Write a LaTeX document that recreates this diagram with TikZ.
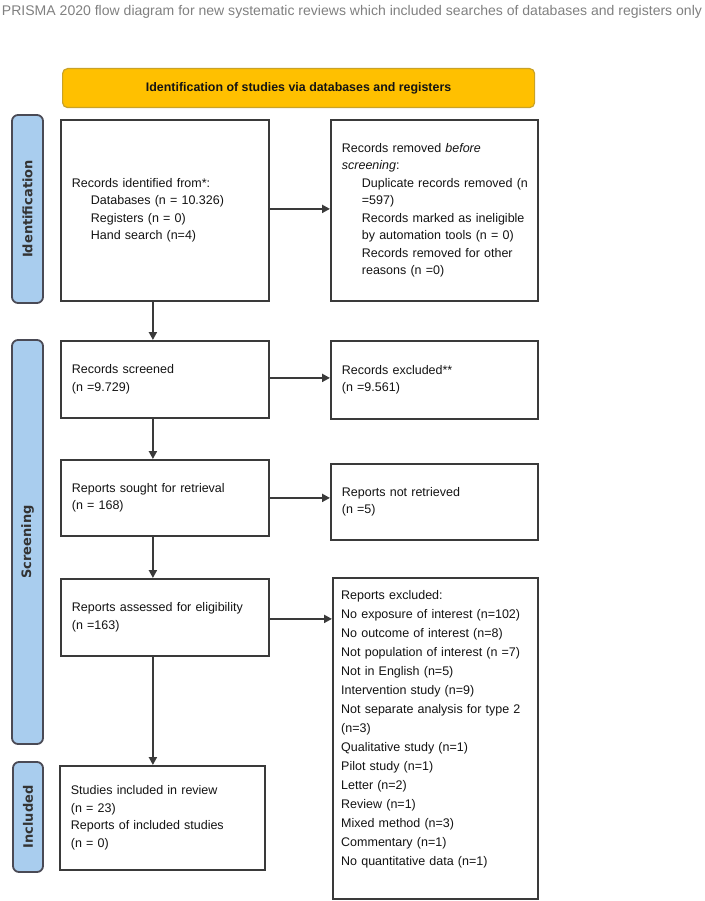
\documentclass[tikz,border=0pt]{standalone}
\usepackage{graphicx}
\usepackage{fontspec}
\setmainfont{Liberation Sans}
\newfontfamily\labfont{DejaVu Sans}
\usetikzlibrary{arrows.meta}
\definecolor{hdrfill}{HTML}{FFC000}
\definecolor{hdrdraw}{HTML}{C9A227}
\definecolor{labfill}{HTML}{A9CDEE}
\definecolor{labdraw}{HTML}{4A4A55}
\definecolor{boxdraw}{HTML}{3A3A3A}
\definecolor{titlegray}{HTML}{808080}
\definecolor{txt}{HTML}{141414}
\begin{document}
\begin{tikzpicture}[x=1pt,y=-1pt,
  box/.style={draw=boxdraw, line width=1.8pt, fill=white, anchor=north west,
    inner xsep=11pt, inner ysep=0pt, align=left, text=txt,
    font=\fontsize{12.5}{17.5}\selectfont},
  sidelab/.style={draw=labdraw, line width=1.8pt, fill=labfill, rounded corners=6pt,
    rotate=90, inner sep=0pt, text=black!80,
    font=\labfont\bfseries\fontsize{13}{15}\selectfont},
  arr/.style={draw=boxdraw, line width=2pt, -{Triangle[length=8pt,width=8pt]}}
]
\path[use as bounding box] (0,0) rectangle (704,901);

% title
\node[text=titlegray, inner sep=0pt] (title) at (352,12)
  {\resizebox{700pt}{\height}{\fontsize{14}{16}\selectfont PRISMA 2020 flow diagram for new systematic reviews which included searches of databases and registers only}};

% header
\node[draw=hdrdraw, line width=1.2pt, fill=hdrfill, rounded corners=5pt, anchor=north west,
  minimum width=472pt, minimum height=39pt, inner sep=0pt, text=txt,
  font=\bfseries\fontsize{12.4}{14}\selectfont] (hdr) at (62,68)
  {Identification of studies via databases and registers};

% side labels
\node[sidelab, minimum width=188pt, minimum height=31pt] (labid) at (27.5,209) {Identification};
\node[sidelab, minimum width=404pt, minimum height=31pt] (labsc) at (27.5,542) {Screening};
\node[sidelab, minimum width=110pt, minimum height=30pt] (labin) at (28,817) {Included};

% boxes
\node[box, minimum width=208pt, minimum height=181pt, text width=186pt] (b1) at (60,119)
  {Records identified from*:\\
   \hspace*{19pt}Databases (n = 10.326)\\
   \hspace*{19pt}Registers (n = 0)\\
   \hspace*{19pt}Hand search (n=4)};
\node[box, minimum width=207pt, minimum height=181pt, text width=185pt] (b2) at (330,119)
  {Records removed \textit{before}\\
   \textit{screening}:\\
   \hspace*{20pt}\mbox{Duplicate records removed (n}\\
   \hspace*{20pt}=597)\\
   \hspace*{20pt}\mbox{Records marked as ineligible}\\
   \hspace*{20pt}\mbox{by automation tools (n = 0)}\\
   \hspace*{20pt}\mbox{Records removed for other}\\
   \hspace*{20pt}reasons (n =0)};

\node[box, minimum width=208pt, minimum height=77pt, text width=186pt] (b3) at (60,340)
  {Records screened\\(n =9.729)};
\node[box, minimum width=207pt, minimum height=78pt, text width=185pt] (b3r) at (330,340)
  {Records excluded**\\(n =9.561)};

\node[box, minimum width=208pt, minimum height=76pt, text width=186pt] (b4) at (60,459)
  {Reports sought for retrieval\\(n = 168)};
\node[box, minimum width=207pt, minimum height=76pt, text width=185pt] (b4r) at (330,463)
  {Reports not retrieved\\(n =5)};

\node[box, minimum width=208pt, minimum height=77pt, text width=186pt] (b5) at (60,578)
  {Reports assessed for eligibility\\(n =163)};
\node[box, minimum width=205pt, minimum height=321pt, text width=183pt] (b5r) at (332,577) {};
\node[anchor=north west, inner sep=0pt, align=left, text width=190pt, text=txt,
  font=\fontsize{12.5}{19}\selectfont] (b5rtxt) at ([xshift=9pt,yshift=-13pt]b5r.north west)
  {Reports excluded:\\
   No exposure of interest (n=102)\\
   No outcome of interest (n=8)\\
   Not population of interest (n =7)\\
   Not in English (n=5)\\
   Intervention study (n=9)\\
   Not separate analysis for type 2\\
   (n=3)\\
   Qualitative study (n=1)\\
   Pilot study (n=1)\\
   Letter (n=2)\\
   Review (n=1)\\
   Mixed method (n=3)\\
   Commentary (n=1)\\
   No quantitative data (n=1)};

\node[box, minimum width=205pt, minimum height=104pt, text width=183pt] (b6) at (59,765)
  {Studies included in review\\(n = 23)\\Reports of included studies\\(n = 0)};

% horizontal arrows
\draw[arr] ([yshift=1.5pt]b1.east) -- ([yshift=1.5pt]b1.east -| b2.west);
\draw[arr] ([yshift=1.5pt]b3.east) -- ([yshift=1.5pt]b3.east -| b3r.west);
\draw[arr] (b4.east) -- (b4.east -| b4r.west);
\draw[arr] ([yshift=-1.5pt]b5.east) -- ([yshift=-1.5pt]b5.east -| b5r.west);

% vertical arrows
\draw[arr] ([xshift=-12pt]b1.south) -- ([xshift=-12pt]b1.south |- b3.north);
\draw[arr] ([xshift=-12pt]b3.south) -- ([xshift=-12pt]b3.south |- b4.north);
\draw[arr] ([xshift=-12pt]b4.south) -- ([xshift=-12pt]b4.south |- b5.north);
\draw[arr] ([xshift=-12pt]b5.south) -- ([xshift=-12pt]b5.south |- b6.north);
\end{tikzpicture}
\end{document}
